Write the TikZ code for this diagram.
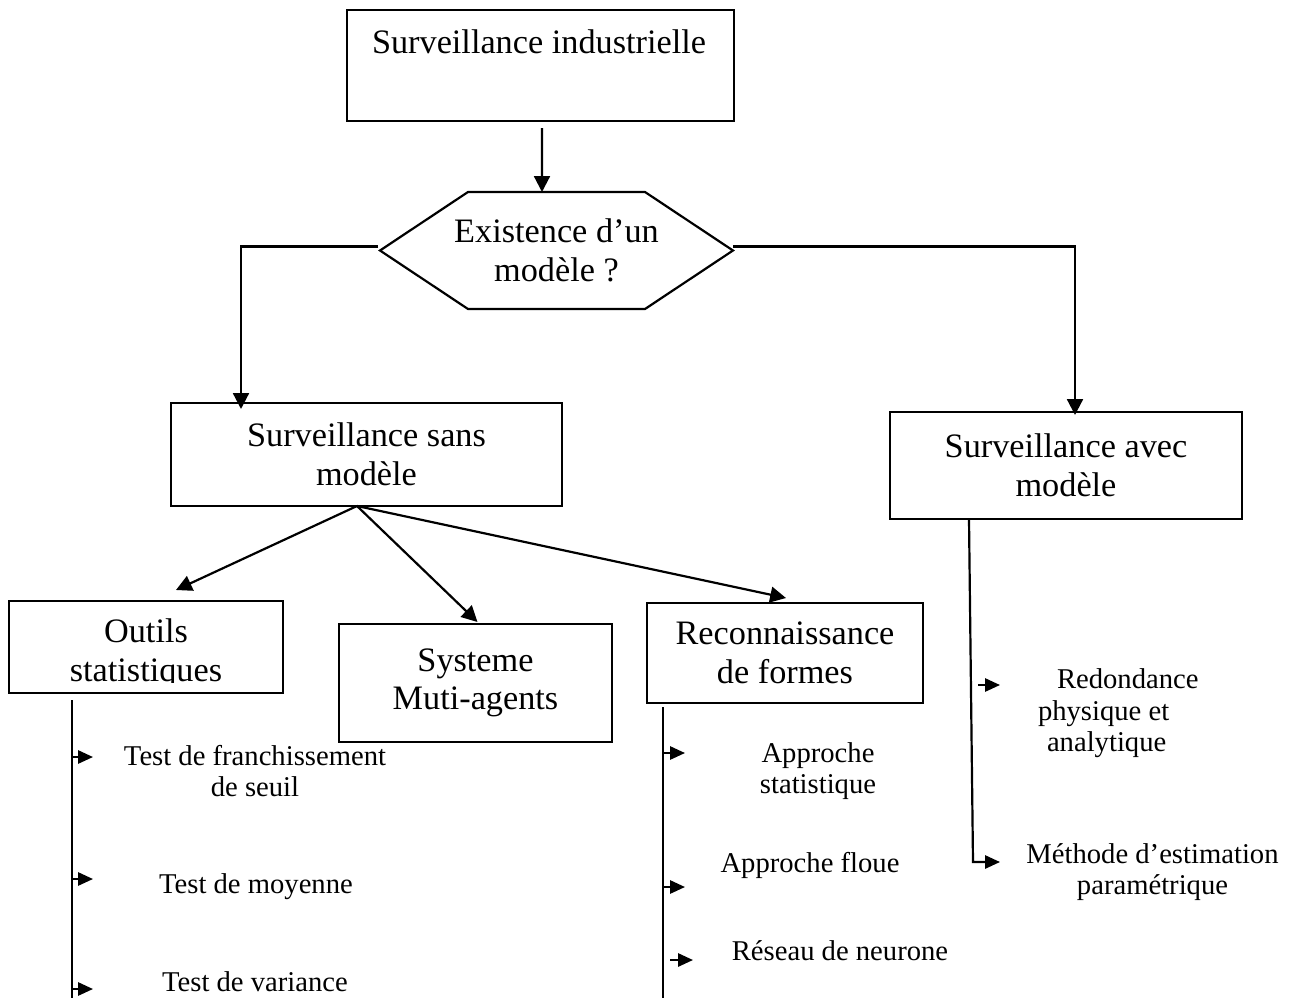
\documentclass[tikz,border=0pt]{standalone}
\usepackage{fontspec}
\setmainfont{Liberation Serif}
\usetikzlibrary{arrows.meta,calc}

\newcommand{\boxfont}{\fontsize{19.5}{22}\selectfont}
\newcommand{\itemfont}{\fontsize{16.3}{18}\selectfont}

\begin{document}
\begin{tikzpicture}[x=0.02cm,y=-0.02cm,
  every node/.style={inner sep=0pt,outer sep=0pt},
  boxdim/.style 2 args={minimum width=#1*0.02cm,minimum height=#2*0.02cm},
  box/.style={draw,line width=1.25pt,rectangle,align=center,font=\boxfont},
  bigtxt/.style={align=center,font=\boxfont},
  smalltxt/.style={align=center,font=\itemfont},
  wire/.style={line width=1.25pt},
  arr/.style={wire,-{Triangle[length=9pt,width=9pt]}},
  brarr/.style={wire,-{Triangle[length=8.5pt,width=7.5pt]}},
]
\useasboundingbox (0,0) rectangle (1295,998);

% top level box and decision hexagon
\node[box,boxdim={387}{111}] (top) at (540.5,65.5) {};
\node[bigtxt,anchor=base] (toptext) at ($(top.north)+(-1.5,43)$) {Surveillance industrielle};
\node[bigtxt,boxdim={353}{117}] (hex) at (556.5,250.5) {Existence d’un\\modèle ?};
\draw[wire] (hex.west) -- ($(hex.north west)+(88,0)$) -- ($(hex.north east)+(-88,0)$)
  -- (hex.east) -- ($(hex.south east)+(-88,0)$) -- ($(hex.south west)+(88,0)$) -- cycle;

% second level
\node[box,boxdim={391}{103}] (sans) at (366.5,454.5) {Surveillance sans\\modèle};
\node[box,boxdim={352}{107}] (avec) at (1066,465.5) {Surveillance avec\\modèle};

% third level
\node[box,boxdim={274}{92}] (outils) at (146,647) {};
\begin{scope}
  \clip (outils.north west) rectangle ($(outils.south east)+(0,-11)$);
  \node[bigtxt] (outilstext) at ($(outils.center)+(0,7)$) {Outils\\statistiques};
\end{scope}
\node[box,boxdim={273}{118}] (sys) at (475.5,683) {Systeme\\Muti-agents};
\node[box,boxdim={276}{100}] (rec) at (785,653) {Reconnaissance\\de formes};

% leaf labels
\node[smalltxt] (t1) at (255,771) {Test de franchissement\\de seuil};
\node[smalltxt,anchor=base] (t2) at (256,893) {Test de moyenne};
\node[smalltxt,anchor=base] (t3) at (255,991) {Test de variance};
\node[smalltxt] (r1) at (818,771) {Approche\\statistique};
\node[smalltxt,anchor=base] (r2) at (810,872) {Approche floue};
\node[smalltxt,anchor=base] (r3) at (840,960) {Réseau de neurone};
\node[smalltxt,align=left,anchor=west] (m1) at (1038,713.5)
  {\hspace*{0.38cm}Redondance\\physique et\\\hspace*{0.18cm}analytique};
\node[smalltxt] (m2) at (1152.5,872) {Méthode d’estimation\\paramétrique};

% main connectors
\coordinate (topout) at ($(top.south)+(1.5,7)$);
\coordinate (hexin) at ($(hex.north)+(-14.5,0)$);
\draw[arr] (topout) -- (hexin);
\draw[arr] ($(hex.west)+(-2,-4)$) -| ($(sans.north west)+(70,6)$);
\draw[arr] ($(hex.east)+(0,-4)$) -| ($(avec.north)+(9,3)$);

\coordinate (fork) at ($(sans.south)+(-9.5,0)$);
\draw[arr] (fork) -- ($(outils.north)+(30,-11)$);
\draw[arr] (fork) -- ($(sys.north)+(2,-2)$);
\draw[arr] (fork) -- ($(rec.north)+(1,-5)$);

% branch: statistical tools
\coordinate (otop) at ($(outils.south west)+(63,7)$);
\coordinate (obot) at ($(outils.south west)+(63,305)$);
\draw[wire] (otop) -- (obot);
\draw[brarr] ($(outils.south west)+(63,64)$) -- ++(21,0);
\draw[brarr] ($(outils.south west)+(63,186)$) -- ++(21,0);
\draw[brarr] ($(outils.south west)+(63,296)$) -- ++(21,0);

% branch: pattern recognition
\coordinate (rtop) at ($(rec.south west)+(16,4)$);
\coordinate (rbot) at ($(rec.south west)+(16,295)$);
\draw[wire] (rtop) -- (rbot);
\draw[brarr] ($(rec.south west)+(16,50)$) -- ++(22,0);
\draw[brarr] ($(rec.south west)+(16,184)$) -- ++(22,0);
\draw[brarr] ($(rec.south west)+(23,257)$) -- ++(23,0);

% branch: model-based monitoring
\coordinate (atop) at ($(avec.south west)+(79,0)$);
\coordinate (acorner) at ($(avec.south west)+(83,343)$);
\draw[brarr] (atop) -- (acorner) -- ++(27,0);
\draw[brarr] ($(avec.south west)+(88,166)$) -- ++(22,0);
\end{tikzpicture}
\end{document}
